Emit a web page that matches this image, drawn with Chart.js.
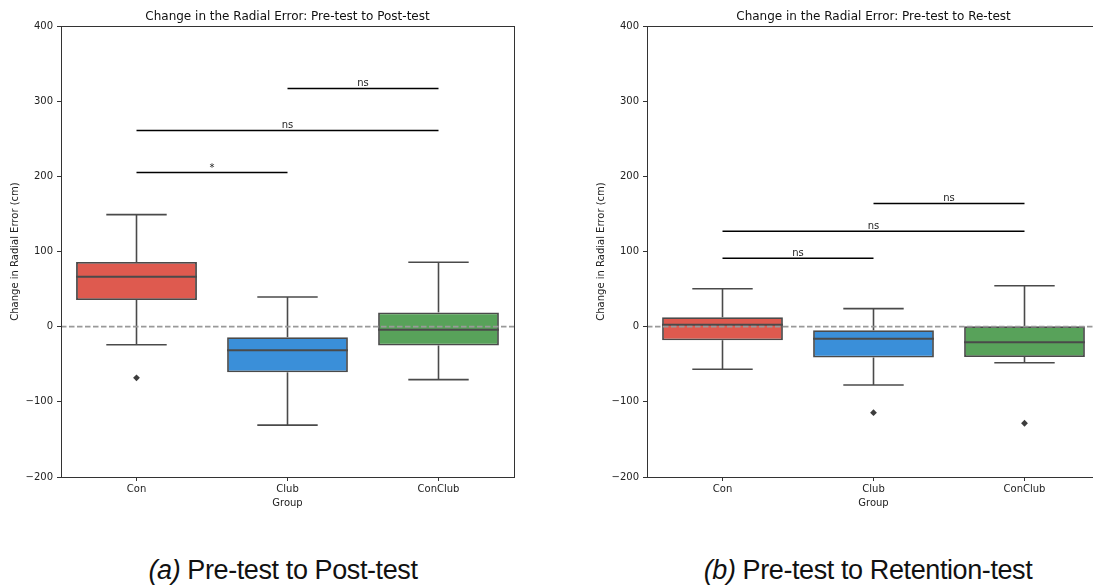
<!DOCTYPE html>
<html>
<head>
<meta charset="utf-8">
<script src="https://cdn.jsdelivr.net/npm/chart.js@4.4.0/dist/chart.umd.min.js"></script>
<style>
  html, body { margin: 0; padding: 0; background: #fff; overflow: hidden; }
  body { width: 1093px; height: 585px; position: relative; }
  .panel { position: absolute; top: 0; width: 518px; height: 520px; }
  .caption { position: absolute; top: 555px; font-family: "Liberation Sans", Arial, sans-serif;
             font-size: 27px; color: #111; white-space: nowrap; transform: translateX(-50%); letter-spacing: -0.4px; }
</style>
</head>
<body>
<div class="panel" style="left:0"><canvas id="postChart" width="518" height="520"></canvas></div>
<div class="panel" style="left:586px"><canvas id="retChart" width="518" height="520"></canvas></div>
<div class="caption" style="left:283px"><i>(a)</i> Pre-test to Post-test</div>
<div class="caption" style="left:868px"><i>(b)</i> Pre-test to Retention-test</div>

<script>
// ---- data ----
const groups = ['Con', 'Club', 'ConClub'];
const groupColors = ['#de5a4f', '#3a8fd9', '#58a25a'];
const yTicks = [-200, -100, 0, 100, 200, 300, 400];

// pre-test to post-test
const postLow = [-24, -131, -70.5];
const postQ1 = [35.5, -60.7, -25];
const postMed = [66.5, -31.5, -4];
const postQ3 = [86, -14, 19];
const postHigh = [149, 39.5, 85.6];
const postOutliers = [[-68], [], []];
const postSigFrom = [0, 0, 1];
const postSigTo = [1, 2, 2];
const postSigY = [205, 261, 317];
const postSigLabel = ['*', 'ns', 'ns'];

// pre-test to retention test
const retLow = [-56.7, -77.6, -48];
const retQ1 = [-18, -41, -40.3];
const retMed = [2.7, -16, -20.8];
const retQ3 = [12.5, -4.8, 0.5];
const retHigh = [50.5, 24, 54.5];
const retOutliers = [[], [-114.4], [-128.5]];
const retSigFrom = [0, 0, 1];
const retSigTo = [1, 2, 2];
const retSigY = [91, 127, 164];
const retSigLabel = ['ns', 'ns', 'ns'];

const LINE = '#4a4a4a';
const FONT = 'DejaVu Sans';

// whiskers, medians, zero line, frame and significance bars
const boxExtras = {
  id: 'boxExtras',
  afterDatasetsDraw(chart) {
    const { ctx, chartArea: a, scales: { x, y } } = chart;
    const o = chart.options.plugins.boxExtras;
    const barW = chart.getDatasetMeta(0).data[0].width;
    ctx.save();
    ctx.lineWidth = 1.6;
    ctx.strokeStyle = LINE;
    groups.forEach((g, i) => {
      const cx = x.getPixelForValue(i);
      const line = (x1, y1, x2, y2) => { ctx.beginPath(); ctx.moveTo(x1, y1); ctx.lineTo(x2, y2); ctx.stroke(); };
      // whiskers
      line(cx, y.getPixelForValue(o.q3[i]), cx, y.getPixelForValue(o.high[i]));
      line(cx, y.getPixelForValue(o.q1[i]), cx, y.getPixelForValue(o.low[i]));
      // caps
      line(cx - barW / 4, y.getPixelForValue(o.high[i]), cx + barW / 4, y.getPixelForValue(o.high[i]));
      line(cx - barW / 4, y.getPixelForValue(o.low[i]), cx + barW / 4, y.getPixelForValue(o.low[i]));
      // median
      ctx.lineWidth = 2;
      line(cx - barW / 2, y.getPixelForValue(o.med[i]), cx + barW / 2, y.getPixelForValue(o.med[i]));
      ctx.lineWidth = 1.6;
    });
    // zero reference
    ctx.setLineDash([5.5, 2.5]);
    ctx.strokeStyle = '#999';
    ctx.beginPath();
    ctx.moveTo(a.left, y.getPixelForValue(0));
    ctx.lineTo(a.right, y.getPixelForValue(0));
    ctx.stroke();
    ctx.setLineDash([]);
    // significance bars
    ctx.lineWidth = 1.5;
    ctx.strokeStyle = '#000';
    ctx.fillStyle = '#222';
    ctx.font = '10px "' + FONT + '"';
    ctx.textAlign = 'center';
    ctx.textBaseline = 'alphabetic';
    o.sigY.forEach((v, k) => {
      const x1 = x.getPixelForValue(o.sigFrom[k]);
      const x2 = x.getPixelForValue(o.sigTo[k]);
      const py = y.getPixelForValue(v);
      ctx.beginPath(); ctx.moveTo(x1, py); ctx.lineTo(x2, py); ctx.stroke();
      ctx.fillText(o.sigLabel[k], (x1 + x2) / 2, py - 2);
    });
    // frame
    ctx.lineWidth = 1;
    ctx.strokeStyle = '#333';
    ctx.strokeRect(Math.round(a.left) + 0.5, Math.round(a.top) + 0.5, Math.round(a.right - a.left), Math.round(a.bottom - a.top));
    ctx.restore();
  }
};

function makeChart(id, title, low, q1, med, q3, high, outliers, sigFrom, sigTo, sigY, sigLabel) {
  const outPts = [];
  outliers.forEach((list, i) => list.forEach(v => outPts.push({ x: groups[i], y: v })));
  return new Chart(document.getElementById(id), {
    type: 'bar',
    data: {
      labels: groups,
      datasets: [
        {
          data: q1.map((v, i) => [v, q3[i]]),
          backgroundColor: groupColors,
          borderColor: LINE,
          borderWidth: 1.8,
          borderSkipped: false,
          barPercentage: 0.8,
          categoryPercentage: 1
        },
        {
          type: 'scatter',
          data: outPts,
          pointStyle: 'rectRot',
          radius: 3.4,
          backgroundColor: '#3d3d3d',
          borderColor: '#3d3d3d',
          borderWidth: 0
        }
      ]
    },
    options: {
      responsive: false,
      animation: false,
      layout: { padding: { top: 0, right: 1, bottom: 0, left: 0 } },
      plugins: {
        legend: { display: false },
        tooltip: { enabled: false },
        title: {
          display: true, text: title, fullSize: false, color: '#111',
          font: { family: FONT, size: 12, weight: 'normal' },
          padding: { top: 9.5, bottom: 2.1 }
        },
        boxExtras: { low, q1, med, q3, high, sigFrom, sigTo, sigY, sigLabel }
      },
      scales: {
        x: {
          type: 'category',
          offset: true,
          grid: { display: true, offset: false, drawOnChartArea: false, drawTicks: true, tickLength: 4, color: '#333' },
          border: { display: false },
          ticks: { color: '#222', padding: 2, font: { family: FONT, size: 10 } },
          title: { display: true, text: 'Group', color: '#222', font: { family: FONT, size: 10 }, padding: { top: 2, bottom: 11 } },
          afterFit(s) { s.height = 43; }
        },
        y: {
          min: -200, max: 400,
          afterBuildTicks(s) { s.ticks = yTicks.map(v => ({ value: v })); },
          grid: { display: true, drawOnChartArea: false, drawTicks: true, tickLength: 4, color: '#333' },
          border: { display: false },
          ticks: { color: '#222', padding: 4, font: { family: FONT, size: 10 },
                   callback: v => String(v).replace('-', '\u2212') },
          title: { display: true, text: 'Change in Radial Error (cm)', color: '#222', font: { family: FONT, size: 10 }, padding: { top: 9, bottom: 0 } },
          afterFit(s) { s.width = 61; }
        }
      }
    },
    plugins: [boxExtras]
  });
}

makeChart('postChart', 'Change in the Radial Error: Pre-test to Post-test',
  postLow, postQ1, postMed, postQ3, postHigh, postOutliers, postSigFrom, postSigTo, postSigY, postSigLabel);
makeChart('retChart', 'Change in the Radial Error: Pre-test to Re-test',
  retLow, retQ1, retMed, retQ3, retHigh, retOutliers, retSigFrom, retSigTo, retSigY, retSigLabel);
</script>
</body>
</html>
